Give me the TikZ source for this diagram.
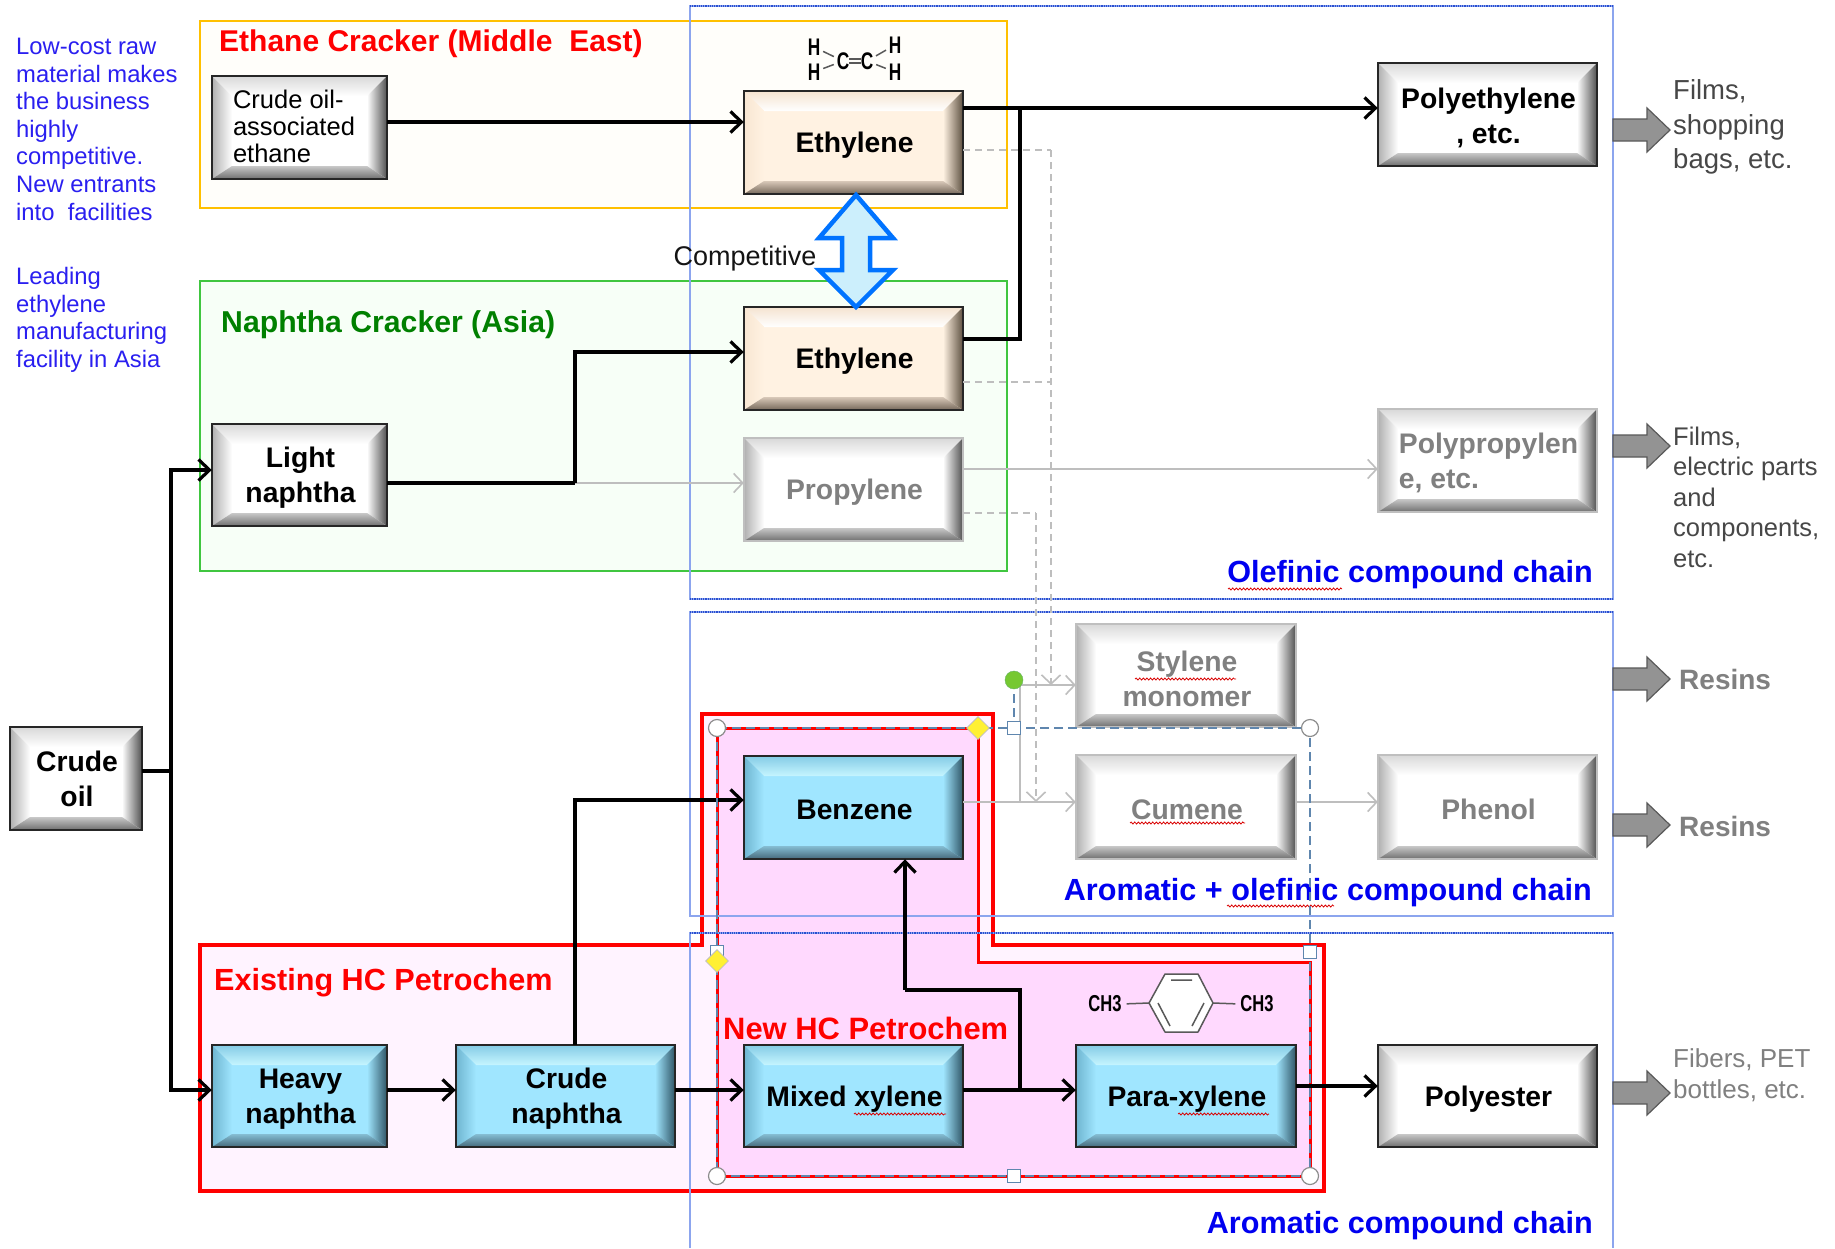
\documentclass[tikz,border=0pt]{standalone}
\usepackage{fontspec}
\setmainfont{Liberation Sans}
\usetikzlibrary{arrows.meta,decorations.pathmorphing,shapes.geometric,calc}
\definecolor{cbeige}{HTML}{FFF2E2}\definecolor{cbeigeT}{HTML}{FFFFFF}\definecolor{cbeigeO}{HTML}{F5E3D0}
\definecolor{cbeigeL}{HTML}{F8E6D2}\definecolor{cbeigeR}{HTML}{5E5040}\definecolor{cbeigeB}{HTML}{75685A}\definecolor{cbeigeBi}{HTML}{D8C8B8}
\definecolor{cblue}{HTML}{A0E6FF}\definecolor{cblueT}{HTML}{C6F5FF}\definecolor{cblueO}{HTML}{85CCE6}
\definecolor{cblueL}{HTML}{6FB5D0}\definecolor{cblueR}{HTML}{2F5566}\definecolor{cblueB}{HTML}{45697A}\definecolor{cblueBi}{HTML}{85BDD3}
\definecolor{cgray}{HTML}{FFFFFF}\definecolor{cgrayT}{HTML}{FFFFFF}\definecolor{cgrayO}{HTML}{D8D8D8}
\definecolor{cgrayL}{HTML}{B0B0B0}\definecolor{cgrayR}{HTML}{505050}\definecolor{cgrayB}{HTML}{6E6E6E}\definecolor{cgrayBi}{HTML}{C8C8C8}
\definecolor{noteblue}{HTML}{2A1FF0}\definecolor{chainblue}{HTML}{0000F0}
\definecolor{selblue}{HTML}{5F86AE}\definecolor{frameblue}{HTML}{8CA5EE}\definecolor{dotblue}{HTML}{2A4FD0}
\definecolor{lgray}{HTML}{BEBEBE}
\newcommand{\bevelbox}[9]{% name x1 y1 x2 y2 palette border textcolour text
 \pgfmathsetmacro\cxx{(#2+#4)/2}\pgfmathsetmacro\cyy{(#3+#5)/2}
 \pgfmathsetmacro\ww{#4-#2}\pgfmathsetmacro\hh{#5-#3}
 \pgfmathsetmacro\ia{#2+20}\pgfmathsetmacro\ib{#4-20}\pgfmathsetmacro\ic{#3+20}\pgfmathsetmacro\id{#5-13}
 \node[boxlabel,fill=#6,minimum width=\ww pt,minimum height=\hh pt] (#1) at (\cxx,\cyy) {};
 \shade[top color=#6O,bottom color=#6T] (#2,#3) -- (#4,#3) -- (\ib,\ic) -- (\ia,\ic) -- cycle;
 \shade[left color=#6L,right color=#6] (#2,#3) -- (\ia,\ic) -- (\ia,\id) -- (#2,#5) -- cycle;
 \shade[left color=#6,right color=#6R] (#4,#3) -- (\ib,\ic) -- (\ib,\id) -- (#4,#5) -- cycle;
 \shade[top color=#6Bi,bottom color=#6B] (#2,#5) -- (\ia,\id) -- (\ib,\id) -- (#4,#5) -- cycle;
 \draw[#7,line width=2.2pt] (#2,#3) rectangle (#4,#5);
 \node[boxlabel,text=#8] (#1-t) at ([shift={(1,3)}]#1.center) {#9};
}
\tikzset{
 boxlabel/.style={inner sep=0pt,align=center,font=\fontsize{28.3}{35}\selectfont\bfseries},
 blk/.style={draw=black,line width=3.4pt,line join=miter},
 blkarrow/.style={blk,-{Straight Barb[length=11pt,width=21pt,line width=3.2pt]}},
 gry/.style={draw=lgray,line width=1.6pt},
 gryarrow/.style={gry,-{Straight Barb[length=9pt,width=19pt,line width=1.6pt]}},
 dashline/.style={draw=lgray,line width=1.5pt,dash pattern=on 7pt off 5pt},
 dasharrow/.style={dashline,-{Straight Barb[length=9pt,width=19pt,line width=1.6pt]}},
 sideblock/.style={fill=gray!85,draw=black!65,line width=1.2pt},
 chain/.style={text=chainblue,font=\fontsize{30.6}{34}\selectfont\bfseries,inner sep=0pt},
 note/.style={text=noteblue,font=\fontsize{23.8}{27.6}\selectfont,align=left,anchor=north west,inner sep=0pt},
 sidetext/.style={text=black!72,align=left,anchor=west,inner sep=0pt},
 squig/.style={draw=red!85!black,line width=.8pt,decorate,decoration={snake,amplitude=1pt,segment length=3.6pt}},
 sel/.style={draw=selblue,line width=1.6pt,dash pattern=on 9pt off 5pt},
 handlec/.style={circle,draw=black!45,fill=white,line width=1.2pt,minimum size=17pt,inner sep=0pt},
 handles/.style={rectangle,draw=selblue,fill=white,line width=1.4pt,minimum size=13pt,inner sep=0pt},
 handled/.style={diamond,draw=black!25,fill=yellow!95!orange!80!white,line width=.8pt,minimum size=23pt,inner sep=0pt},
 atom/.style={font=\fontsize{24}{24}\selectfont\bfseries,inner sep=0pt,xscale=.72,transform shape},
 ch3/.style={font=\fontsize{23}{23}\selectfont\bfseries,inner sep=0pt,xscale=.72,transform shape},
 bond/.style={draw=black!65,line width=1.5pt},
}
\begin{document}
\begin{tikzpicture}[x=1pt,y=-1pt]
\useasboundingbox (0,0) rectangle (1835,1248);
\fill[white] (0,0) rectangle (1835,1248);
% group panels
\draw[draw={rgb,255:red,255;green,192;blue,0},fill={rgb,255:red,255;green,254;blue,250},line width=1.8pt] (200,21) rectangle (1007,208);
\draw[draw=green!70!black!75,fill=green!3!white,line width=1.4pt] (200,281) rectangle (1007,571);
\draw[red,fill={rgb,255:red,255;green,243;blue,255},line width=3.6pt] (200,945) -- (702,945) -- (702,714) -- (993,714) -- (993,945) -- (1324,945) -- (1324,1191) -- (200,1191) -- cycle;
\draw[red,fill={rgb,255:red,255;green,217;blue,254},line width=3pt] (717,728) -- (978,728) -- (978,962) -- (1310,962) -- (1310,1176) -- (717,1176) -- cycle;
% chain frames
\draw[frameblue,line width=1.1pt] (690,6) rectangle (1613,599);
\draw[dotblue,line width=1.2pt,densely dotted] (690,6) -- (1613,6) (690,599) -- (1613,599);
\draw[frameblue,line width=1.1pt] (690,612) rectangle (1613,916);
\draw[dotblue,line width=1.2pt,densely dotted] (690,612) -- (1613,612);
\draw[frameblue,line width=1.1pt] (690,1248) -- (690,933) -- (1613,933) -- (1613,1248);
\draw[dotblue,line width=1.2pt,densely dotted] (690,933) -- (1613,933);
% boxes
\bevelbox{ethane}{212}{76}{387}{179}{cgray}{black!85}{black}{\raisebox{-3pt}{\hspace*{-13pt}\fontsize{25.5}{27}\selectfont\mdseries\begin{tabular}{@{}l@{}}Crude oil-\\associated\\ethane\end{tabular}}}
\bevelbox{ethA}{744}{91}{963}{194}{cbeige}{black!85}{black}{Ethylene}
\bevelbox{ethB}{744}{307}{963}{410}{cbeige}{black!85}{black}{Ethylene}
\bevelbox{prop}{744}{438}{963}{541}{cgray}{black!25}{black!50}{Propylene}
\bevelbox{light}{212}{424}{387}{526}{cgray}{black!85}{black}{Light\\naphtha}
\bevelbox{pe}{1378}{63}{1597}{166}{cgray}{black!85}{black}{Polyethylene\\, etc.}
\bevelbox{pp}{1378}{409}{1597}{512}{cgray}{black!25}{black!50}{\begin{tabular}{@{}l@{}}Polypropylen\\e, etc.\end{tabular}}
\bevelbox{styl}{1076}{624}{1296}{727}{cgray}{black!25}{black!50}{Stylene\\monomer}
\bevelbox{cum}{1076}{755}{1296}{859}{cgray}{black!25}{black!50}{\raisebox{1pt}{Cumene}}
\bevelbox{phen}{1378}{755}{1597}{859}{cgray}{black!25}{black!50}{\raisebox{2pt}{Phenol}}
\bevelbox{benz}{744}{756}{963}{859}{cblue}{black!85}{black}{\raisebox{2pt}{Benzene}}
\bevelbox{heavy}{212}{1045}{387}{1147}{cblue}{black!85}{black}{Heavy\\naphtha}
\bevelbox{cnaph}{456}{1045}{675}{1147}{cblue}{black!85}{black}{Crude\\naphtha}
\bevelbox{mixed}{744}{1045}{963}{1147}{cblue}{black!85}{black}{Mixed xylene}
\bevelbox{para}{1076}{1045}{1296}{1147}{cblue}{black!85}{black}{Para-xylene}
\bevelbox{poly}{1378}{1045}{1597}{1147}{cgray}{black!85}{black}{Polyester}
\bevelbox{crude}{10}{727}{142}{830}{cgray}{black!85}{black}{\raisebox{3pt}{\begin{tabular}{@{}c@{}}Crude\\oil\end{tabular}}}
% junctions
\coordinate (jTop) at (1020,108);
\coordinate (jUp) at (575,483);
\coordinate (jCrude) at (171,771);
\coordinate (jMix) at (1020,1090);
\coordinate (jBen) at (905,990);
\coordinate (jDashA) at (1051,150);
\coordinate (jDashB) at (1036,513);
\coordinate (jGry) at (1020,802);
% gray connectors
\draw[gryarrow] (light.east |- 0,483) -- (prop.west |- 0,483);
\draw[gryarrow] (prop.east |- 0,469) -- (pp.west |- 0,469);
\draw[gryarrow] (benz.east |- 0,802) -- (cum.west |- 0,802);
\draw[gryarrow] (cum.east |- 0,802) -- (phen.west |- 0,802);
\draw[gryarrow] (jGry) |- (styl.west |- 0,685);
% dashed connectors
\draw[dashline] (ethA.east |- 0,150) -- (jDashA);
\draw[dasharrow] (jDashA) -- (1051,685);
\draw[dashline] (ethB.east |- 0,382) -- (1051,382);
\draw[dashline] (prop.east |- 0,513) -- (jDashB);
\draw[dasharrow] (jDashB) -- (1036,802);
% black connectors
\draw[blkarrow] (ethane.east |- 0,122) -- (ethA.west |- 0,122);
\draw[blkarrow] (ethA.east |- 0,108) -- (pe.west |- 0,108);
\draw[blk] (jTop) |- (ethB.east |- 0,339);
\draw[blk] (light.east |- 0,483) -- (jUp);
\draw[blkarrow] (jUp) |- (ethB.west |- 0,352);
\draw[blk] (crude.east |- 0,771) -- (jCrude);
\draw[blkarrow] (jCrude) |- (light.west |- 0,470);
\draw[blkarrow] (jCrude) |- (heavy.west |- 0,1090);
\draw[blkarrow] (heavy.east |- 0,1090) -- (cnaph.west |- 0,1090);
\draw[blkarrow] (cnaph.east |- 0,1090) -- (mixed.west |- 0,1090);
\draw[blkarrow] (cnaph.north -| 575,0) |- (benz.west |- 0,800);
\draw[blkarrow] (mixed.east |- 0,1090) -- (para.west |- 0,1090);
\draw[blk] (jMix) |- (jBen);
\draw[blkarrow] (jBen) -- (benz.south -| jBen);
\draw[blkarrow] (para.east |- 0,1086) -- (poly.west |- 0,1086);
% competitive arrow
\draw[draw=blue!55!cyan,fill=cyan!20!white,line width=4.5pt,line join=miter] (856,195) -- (893,238) -- (870,238) -- (870,270) -- (893,270) -- (856,307) -- (819,270) -- (842,270) -- (842,238) -- (819,238) -- cycle;
\node[inner sep=0pt,font=\fontsize{27}{27}\selectfont,text=black!92] (comp) at (745,259) {Competitive};
% side block arrows
\foreach \yy in {130,446,679,825,1093}{
 \draw[sideblock] (1613,\yy-11) -- (1647,\yy-11) -- (1647,\yy-22) -- (1670,\yy) -- (1647,\yy+22) -- (1647,\yy+11) -- (1613,\yy+11) -- cycle;}
% labels
\node[anchor=west,inner sep=0pt,text=red,font=\fontsize{30}{30}\selectfont\bfseries] (lEth) at (219,44) {Ethane Cracker (Middle\ \ East)};
\node[anchor=west,inner sep=0pt,text=green!50!black,font=\fontsize{30.2}{30}\selectfont\bfseries] (lNap) at (221,325) {Naphtha Cracker (Asia)};
\node[anchor=west,inner sep=0pt,text=red,font=\fontsize{30.6}{30}\selectfont\bfseries] (lExi) at (214,983) {Existing HC Petrochem};
\node[anchor=west,inner sep=0pt,text=red,font=\fontsize{30.9}{30}\selectfont\bfseries] (lNew) at (723,1028) {New HC Petrochem};
\node[chain,anchor=east] (c1) at (1593,575) {Olefinic compound chain};
\node[chain,anchor=east] (c2) at (1592,893) {Aromatic + olefinic compound chain};
\node[chain,anchor=east] (c3) at (1593,1226) {Aromatic compound chain};
\node[note] (n1) at (16,38) {Low-cost raw\\material makes\\the business\\highly\\competitive.\\New entrants\\into\ \ facilities};
\node[note] (n2) at (16,267) {Leading\\ethylene\\manufacturing\\facility in Asia};
\node[sidetext,font=\fontsize{27.5}{34.5}\selectfont] (s1) at (1673,127) {Films,\\shopping\\bags, etc.};
\node[sidetext,font=\fontsize{25.5}{30.5}\selectfont] (s2) at (1673,497) {Films,\\electric parts\\and\\components,\\etc.};
\node[sidetext,font=\fontsize{28}{28}\selectfont\bfseries,text=black!50] (s3) at (1679,679) {Resins};
\node[sidetext,font=\fontsize{28}{28}\selectfont\bfseries,text=black!50] (s4) at (1679,826) {Resins};
\node[sidetext,font=\fontsize{26}{30.5}\selectfont,text=black!50] (s5) at (1673,1075) {Fibers, PET\\bottles, etc.};
% ethylene formula
\node[atom] (h1) at (814,47) {H};\node[atom] (h2) at (814,72) {H};
\node[atom] (c1a) at (843,61) {C};\node[atom] (c2a) at (867,61) {C};
\node[atom] (h3) at (895,45) {H};\node[atom] (h4) at (895,72) {H};
\draw[bond,shorten <=3pt,shorten >=3pt] (h1) -- (c1a);\draw[bond,shorten <=3pt,shorten >=3pt] (h2) -- (c1a);\draw[bond,shorten <=3pt,shorten >=3pt] (c2a) -- (h3);\draw[bond,shorten <=3pt,shorten >=3pt] (c2a) -- (h4);
\draw[bond] ([yshift=2pt]c1a.east) -- ([yshift=2pt]c2a.west);\draw[bond] ([yshift=-2pt]c1a.east) -- ([yshift=-2pt]c2a.west);
% para-xylene formula
\node[ch3] (m1) at (1105,1004) {CH3};\node[ch3] (m2) at (1257,1004) {CH3};
\draw[bond,fill=white,line join=round] (1165,974) -- (1198,974) -- (1213,1003) -- (1198,1032) -- (1165,1032) -- (1149,1003) -- cycle;
\draw[bond] (1171,980) -- (1192,980) (1158,1003) -- (1170,1026) (1204,1003) -- (1192,1026);
\draw[bond,shorten <=5pt] (m1.east) -- (1149,1003);\draw[bond,shorten >=5pt] (1213,1003) -- (m2.west);
% spelling squiggles
\draw[squig] (1135,679) -- (1236,679);
\draw[squig] (1130,823) -- (1245,823);
\draw[squig] (1227,906) -- (1334,906);
\draw[squig] (854,1114) -- (946,1114);
\draw[squig] (1178,1114) -- (1269,1114);
\draw[squig] (1228,589) -- (1342,589);
% selection handles
\draw[sel] (717,728) rectangle (1310,1176);
\draw[sel] (1014,680) -- (1014,728);
\node[handlec] (hTL) at (717,728) {};\node[handlec] (hTR) at (1310,728) {};
\node[handlec] (hBL) at (717,1176) {};\node[handlec] (hBR) at (1310,1176) {};
\node[handles] (hT) at (1014,728) {};\node[handles] (hB) at (1014,1176) {};
\node[handles] (hL) at (717,952) {};\node[handles] (hR) at (1310,952) {};
\node[handled] (dA) at (978,728) {};\node[handled] (dB) at (717,961) {};
\node[circle,draw=green!50!black!60,fill={rgb,255:red,118;green,200;blue,50},minimum size=18pt,inner sep=0pt] (rot) at (1014,680) {};
\end{tikzpicture}
\end{document}
